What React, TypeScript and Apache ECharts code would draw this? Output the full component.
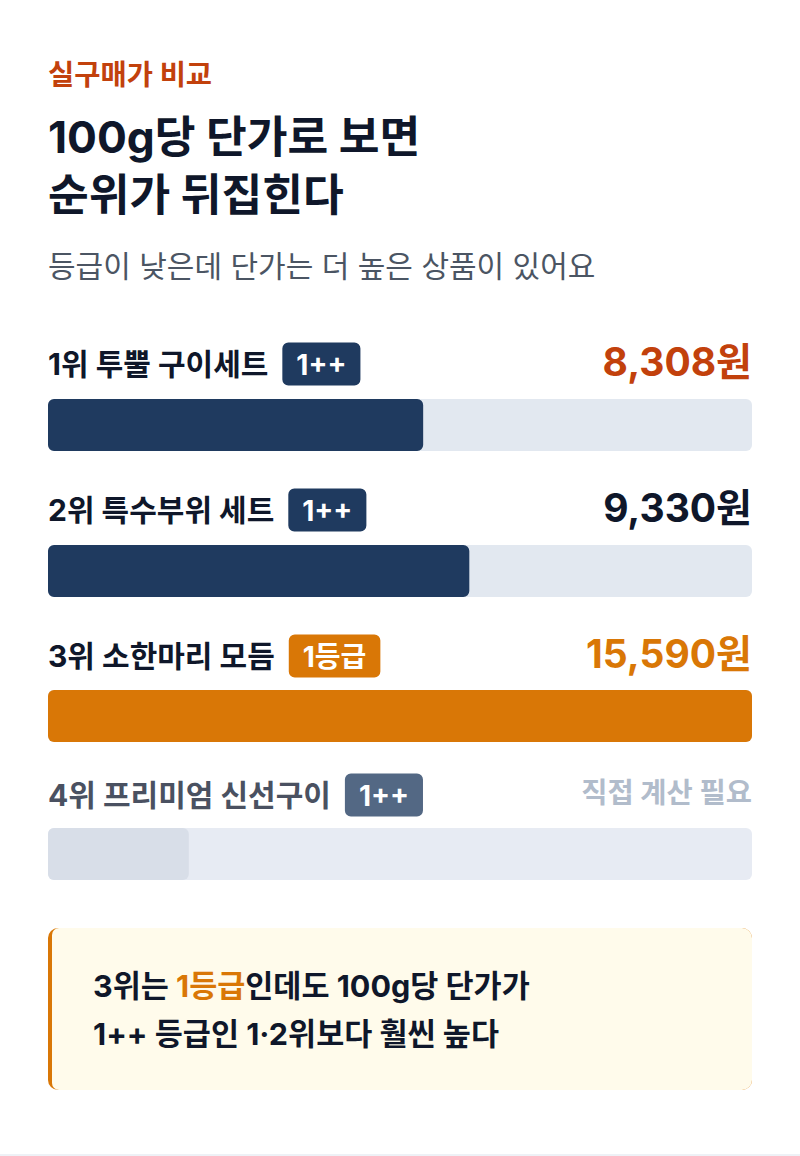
import React, { useEffect, useRef } from "react";
import * as echarts from "echarts";

const categories = ["1위 투뿔 구이세트", "2위 특수부위 세트", "3위 소한마리 모듬", "4위 프리미엄 신선구이"];
const grades = ["1++", "1++", "1등급", "1++"];
const unitPrices: (number | null)[] = [8308, 9330, 15590, null];
const pendingText = "직접 계산 필요";
const placeholderFill = 3118; // estimated grey stub width for the uncalculated item

const FONT = "Inter, 'Noto Sans CJK KR', sans-serif";

const barColors = ["#1f3a5f", "#1f3a5f", "#d97706", "#d8dee8"];
const trackColors = ["#e2e8f0", "#e2e8f0", "#e2e8f0", "#e7ebf3"];
const valueColors = ["#c2410c", "#0f172a", "#d97706", "#b1bccb"];
const labelColors = ["#0f172a", "#0f172a", "#0f172a", "#4a5161"];
const badgeColors = ["#1f3a5f", "#1f3a5f", "#d97706", "#536884"];

const barTops = [399, 545, 690, 828];
const labelY = [364, 510, 656, 795];

export default function App() {
  const ref = useRef<HTMLDivElement>(null);
  useEffect(() => {
    if (!ref.current) return;
    const chart = echarts.init(ref.current, undefined, { renderer: "svg" });
    const maxVal = Math.max(...(unitPrices.filter((v) => v != null) as number[]));

    const grids = barTops.map((t) => ({ left: 48, right: 48, top: t, height: 52 }));
    const xAxes = barTops.map((_, i) => ({ type: "value", gridIndex: i, min: 0, max: maxVal, show: false }));
    const yAxes = barTops.map((_, i) => ({ type: "category", gridIndex: i, data: [categories[i]], show: false }));
    const series = categories.map((c, i) => ({
      type: "bar",
      xAxisIndex: i,
      yAxisIndex: i,
      barWidth: 52,
      data: [unitPrices[i] ?? placeholderFill],
      itemStyle: { color: barColors[i], borderRadius: 6 },
      showBackground: true,
      backgroundStyle: { color: trackColors[i], borderRadius: 6 },
      silent: true,
    }));

    const graphics: any[] = [
      { type: "text", x: 48, y: 74, style: { text: "실구매가 비교", fontFamily: FONT, fontSize: 28.5, fontWeight: 700, fill: "#c2410c", verticalAlign: "middle" } },
      { type: "text", x: 48, y: 166, style: { text: "100g당 단가로 보면\n순위가 뒤집힌다", fontFamily: FONT, fontSize: 44.3, fontWeight: 700, fill: "#0f172a", lineHeight: 58, verticalAlign: "middle" } },
      { type: "text", x: 48, y: 266, style: { text: "등급이 낮은데 단가는 더 높은 상품이 있어요", fontFamily: FONT, fontSize: 30, fontWeight: 400, fill: "#4b5563", verticalAlign: "middle" } },
    ];

    categories.forEach((c, i) => {
      graphics.push({
        type: "text",
        x: 48,
        y: labelY[i],
        style: {
          text: `{l|${c}}{s|}{b|${grades[i]}}`,
          verticalAlign: "middle",
          rich: {
            l: { fontFamily: FONT, fontSize: 30, fontWeight: 700, fill: labelColors[i] },
            s: { width: 14 },
            b: {
              fontFamily: FONT, fontSize: 28, fontWeight: 700, fill: "#ffffff",
              backgroundColor: badgeColors[i], borderRadius: 6, padding: [8, 14, 7, 14],
            },
          },
        },
      });
      const v = unitPrices[i];
      graphics.push({
        type: "text",
        x: 752,
        y: labelY[i] - 3,
        style: {
          text: v != null ? `${v.toLocaleString("en-US")}원` : pendingText,
          align: "right",
          verticalAlign: "middle",
          fontFamily: FONT,
          fontSize: v != null ? 39 : 28.5,
          fontWeight: 700,
          fill: valueColors[i],
        },
      });
    });

    // callout
    graphics.push(
      { type: "rect", shape: { x: 48, y: 928, width: 704, height: 162, r: 10 }, style: { fill: "#d97706" } },
      { type: "rect", shape: { x: 52, y: 928, width: 700, height: 162, r: [7, 10, 10, 7] }, style: { fill: "#fffbeb" } },
      {
        type: "text",
        x: 93,
        y: 1009,
        style: {
          text: "{a|3위는 }{o|1등급}{a|인데도 100g당 단가가}\n{a|1++ 등급인 1·2위보다 훨씬 높다}",
          verticalAlign: "middle",
          lineHeight: 48,
          rich: {
            a: { fontFamily: FONT, fontSize: 30.5, fontWeight: 700, fill: "#0f172a", lineHeight: 48 },
            o: { fontFamily: FONT, fontSize: 30.5, fontWeight: 700, fill: "#d97706", lineHeight: 48 },
          },
        },
      },
      { type: "rect", shape: { x: 0, y: 1154, width: 800, height: 2 }, style: { fill: "#eef1f6" } }
    );

    chart.setOption({
      animation: false,
      backgroundColor: "#ffffff",
      grid: grids,
      xAxis: xAxes,
      yAxis: yAxes,
      series,
      graphic: graphics,
    } as any);
    return () => chart.dispose();
  }, []);
  return <div ref={ref} style={{ position: "absolute", left: 0, top: 0, width: 800, height: 1156 }} />;
}
